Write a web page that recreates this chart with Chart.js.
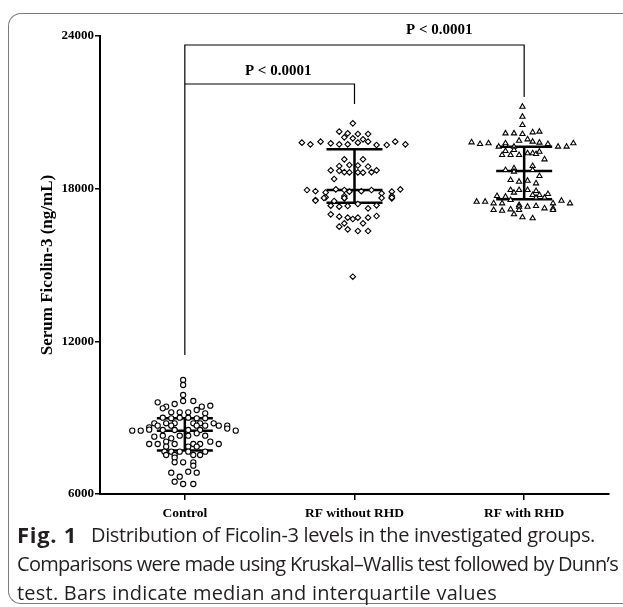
<!DOCTYPE html>
<html><head><meta charset="utf-8">
<script src="https://cdn.jsdelivr.net/npm/chart.js@4"></script>
<style>
html,body{margin:0;padding:0;background:#fff;width:623px;height:607px;overflow:hidden;}
#wrap{position:relative;width:623px;height:607px;}
#frame{position:absolute;left:8px;top:13px;width:680px;height:589px;border:1.5px solid #7a7a7a;border-right:none;border-radius:13px 0 0 13px;}
#c{position:absolute;left:0;top:0;}
.cl{position:absolute;font-family:'Open Sans';font-size:20px;line-height:24px;color:#231f20;white-space:nowrap;}
.cl.b{font-weight:700;font-size:22px;}
</style></head>
<body>
<div id="wrap">
<div id="frame"></div>
<canvas id="c" width="623" height="530"></canvas>
<div id="cap"></div>
</div>
<script>
const categories = ["Control", "RF without RHD", "RF with RHD"];
const yTicks = [6000, 12000, 18000, 24000];

// Control group (values ng/mL, horizontal jitter in category units)
const controlValues = [10480,10284,9891,9655,9655,9602,9537,9471,9432,9432,9367,9301,9210,9210,9210,9170,
 8999,8975,8999,8999,8975,8975,8778,8778,8778,8778,8778,8778,8686,8686,8686,8686,8686,8686,8620,
 8515,8515,8515,8515,8490,8490,8530,8570,8490,8384,8292,8292,8292,8292,8253,8188,8057,8057,
 7965,7965,7965,7965,7965,7965,7860,7860,7860,7664,7664,7664,7664,7664,7533,7533,7533,7533,7428,
 7245,7245,7245,7113,6837,6877,6837,6680,6483,6393,6393];
const controlJitter = [-0.01,-0.01,-0.01,-0.01,0.05,-0.16,-0.06,0.15,-0.11,0.10,-0.13,0.07,-0.08,-0.03,0.02,0.12,
 -0.13,-0.08,-0.03,0.02,0.07,0.12,-0.18,-0.11,-0.06,0.05,0.09,0.17,-0.16,-0.08,0.07,0.12,0.20,0.25,-0.21,
 -0.13,-0.06,0.02,0.09,-0.31,-0.26,-0.21,0.25,0.30,0.07,-0.13,-0.03,0.02,0.12,-0.18,-0.08,-0.11,0.15,
 -0.21,-0.16,-0.06,0.05,0.09,0.20,-0.11,0.02,0.07,-0.12,-0.08,-0.03,0.02,0.12,-0.11,-0.06,0.05,0.09,-0.06,
 -0.06,-0.01,0.05,0.05,-0.08,0.02,0.07,-0.03,-0.06,-0.01,0.05];

// RF without RHD
const rfNoValues = [20567,20240,20174,20148,20148,20017,19978,19939,
 19808,19743,19847,19782,19743,19743,19808,19847,19716,19716,19847,19743,
 19153,19153,18890,18930,18910,18870,18720,18700,18650,18640,18640,18630,18650,18720,18380,
 17947,17900,17850,17975,17947,17881,17900,17947,17816,17881,17975,
 17554,17659,17711,17620,17711,17620,
 17527,17633,17514,17633,17633,17646,
 17332,17293,17319,17398,17227,17345,
 16992,16899,16860,16808,16860,16860,16925,16638,16506,16638,16401,16336,16336,14540];
const rfNoJitter = [-0.01,-0.09,-0.04,0.02,0.08,-0.06,-0.01,0.05,
 -0.31,-0.26,-0.20,-0.14,-0.09,-0.04,0.02,0.08,0.13,0.19,0.24,0.30,
 -0.06,0.05,-0.09,-0.03,0.02,0.08,-0.14,-0.09,-0.06,-0.03,0.02,0.05,0.10,0.13,-0.12,
 -0.28,-0.23,-0.17,-0.11,-0.06,-0.03,0.04,0.10,0.16,0.22,0.27,
 -0.23,-0.17,-0.06,-0.06,0.22,0.22,
 -0.23,-0.18,-0.12,-0.06,0.16,0.22,
 -0.14,-0.09,-0.04,0.02,0.08,0.13,
 -0.14,-0.09,-0.04,-0.01,0.02,0.08,0.13,-0.06,-0.09,0.05,-0.04,0.02,0.08,-0.01];

// RF with RHD
const rfWithValues = [21222,20829,20502,20174,20174,20148,20214,20240,
 19821,19755,19782,19886,19939,19847,19808,19755,19651,19651,19782,
 19651,19716,19651,19782,
 19323,19480,19323,19519,19323,19389,19389,19362,19453,19153,
 18733,18799,18668,18890,18733,18497,18340,18274,18313,18209,
 17947,17843,17947,17947,17908,17751,17751,17790,17646,17646,17685,17711,
 17488,17488,17423,17423,17554,17358,17292,17292,17318,17227,17423,17227,17528,17423,
 17161,17135,17188,17161,16992,16874,16835,17161];
const rfWithJitter = [-0.01,-0.01,-0.01,-0.11,-0.06,-0.01,0.05,0.09,
 -0.31,-0.26,-0.21,-0.03,0.02,0.05,0.09,0.14,0.20,0.25,0.29,
 -0.15,-0.11,-0.06,-0.11,
 -0.13,-0.11,-0.08,-0.06,-0.03,0.02,0.05,0.07,0.09,0.12,
 -0.11,-0.06,-0.06,0.05,0.05,0.09,-0.08,-0.03,0.02,0.07,
 -0.08,-0.06,-0.03,0.02,0.07,0.05,0.09,0.14,0.12,0.07,-0.11,-0.16,
 -0.28,-0.23,-0.18,-0.13,-0.08,-0.03,-0.03,0.02,0.07,0.12,0.17,0.17,0.22,0.27,
 -0.18,-0.13,-0.08,-0.03,-0.06,-0.01,0.05,0.17];

// Median and interquartile values
const medians = [8490, 17950, 18690];
const q1 = [7710, 17449, 17580];
const q3 = [8980, 19546, 19650];
const barHalfWidth = 0.165;

// Significance brackets
const bracketLong = [[0, 11463], [0, 23646], [2, 23646], [2, 21602]];
const bracketShort = [[0, 22113], [1, 22113], [1, 21327]];
const pLabels = [{text: "P < 0.0001", x: 1.5, y: 24230}, {text: "P < 0.0001", x: 0.55, y: 22620}];

// Caption (text with its line layout)
const captionLines = [
  {text: "Fig. 1", bold: true, left: 17, right: 77, top: 522},
  {text: "Distribution of Ficolin-3 levels in the investigated groups.", left: 91, right: 595, top: 523},
  {text: "Comparisons were made using Kruskal–Wallis test followed by Dunn’s", left: 17, right: 618, top: 552},
  {text: "test. Bars indicate median and interquartile values", left: 17, right: 497, top: 581}
];
(function buildCaption() {
  const cap = document.getElementById('cap');
  const mctx = document.createElement('canvas').getContext('2d');
  captionLines.forEach(l => {
    const d = document.createElement('div');
    d.className = 'cl' + (l.bold ? ' b' : '');
    d.textContent = l.text;
    d.style.left = l.left + 'px';
    d.style.top = l.top + 'px';
    cap.appendChild(d);
    const cs = getComputedStyle(d);
    mctx.font = cs.fontWeight + ' ' + cs.fontSize + ' ' + cs.fontFamily;
    const w = mctx.measureText(l.text).width;
    const n = [...l.text].length;
    d.style.letterSpacing = ((l.right - l.left - w) / n) + 'px';
  });
})();

const toPts = (vals, jit, c) => vals.map((v, i) => ({x: c + jit[i], y: v}));

function summaryLines() {
  const pts = [];
  for (let i = 0; i < categories.length; i++) {
    [q3[i], medians[i], q1[i]].forEach(v => {
      pts.push({x: i - barHalfWidth, y: v}, {x: i + barHalfWidth, y: v}, {x: NaN, y: null});
    });
    pts.push({x: i, y: q1[i]}, {x: i, y: q3[i]}, {x: NaN, y: null});
  }
  return pts;
}
const lineDS = (pts, w) => ({type: 'line', data: pts, borderColor: '#000', borderWidth: w, pointRadius: 0, fill: false, spanGaps: false, tension: 0});

const serif = "'Liberation Serif','Times New Roman',serif";

const pPlugin = {
  id: 'plabels',
  afterDraw(chart) {
    const {ctx, scales: {x, y}} = chart;
    ctx.save();
    ctx.font = "bold 15px " + serif;
    ctx.fillStyle = '#000';
    ctx.textAlign = 'center';
    ctx.textBaseline = 'middle';
    pLabels.forEach(p => ctx.fillText(p.text, x.getPixelForValue(p.x), y.getPixelForValue(p.y)));
    ctx.restore();
  }
};

new Chart(document.getElementById('c'), {
  type: 'scatter',
  data: {
    datasets: [
      lineDS(bracketLong.map(p => ({x: p[0], y: p[1]})), 1.2),
      lineDS(bracketShort.map(p => ({x: p[0], y: p[1]})), 1.2),
      {data: toPts(controlValues, controlJitter, 0), pointStyle: 'circle', pointRadius: 2.6, pointBorderWidth: 1.1, borderColor: '#000', backgroundColor: '#fff'},
      {data: toPts(rfNoValues, rfNoJitter, 1), pointStyle: 'rectRot', pointRadius: 2.8, pointBorderWidth: 1.1, borderColor: '#000', backgroundColor: '#fff'},
      {data: toPts(rfWithValues, rfWithJitter, 2), pointStyle: 'triangle', pointRadius: 3, pointBorderWidth: 1.1, borderColor: '#000', backgroundColor: '#fff'},
      lineDS(summaryLines(), 2.5)
    ]
  },
  options: {
    responsive: false,
    animation: false,
    events: [],
    layout: {padding: {top: 36, left: 0, right: 14, bottom: 6}},
    plugins: {legend: {display: false}, tooltip: {enabled: false}},
    scales: {
      x: {
        type: 'linear', min: -0.5, max: 2.5,
        afterBuildTicks: s => { s.ticks = categories.map((c, i) => ({value: i})); },
        afterFit: s => { s.height = 30; },
        ticks: {callback: v => categories[Math.round(v)], color: '#000', font: {family: serif, weight: 'bold', size: 13.5}, padding: 5, maxRotation: 0, autoSkip: false},
        grid: {drawOnChartArea: false, drawTicks: true, tickLength: 6, color: '#000', lineWidth: 1.5},
        border: {color: '#000', width: 2}
      },
      y: {
        min: 6000, max: 24000,
        afterBuildTicks: s => { s.ticks = yTicks.map(v => ({value: v})); },
        afterFit: s => { s.width = 100; },
        ticks: {callback: v => String(v), color: '#000', font: {family: serif, weight: 'bold', size: 13}, padding: 1},
        grid: {drawOnChartArea: false, drawTicks: true, tickLength: 5, color: '#000', lineWidth: 1.5},
        border: {color: '#000', width: 2},
        title: {display: true, text: 'Serum Ficolin-3 (ng/mL)', color: '#000', font: {family: serif, weight: 'bold', size: 17}, padding: {top: 37, bottom: 0}}
      }
    }
  },
  plugins: [pPlugin]
});
</script>
</body></html>
